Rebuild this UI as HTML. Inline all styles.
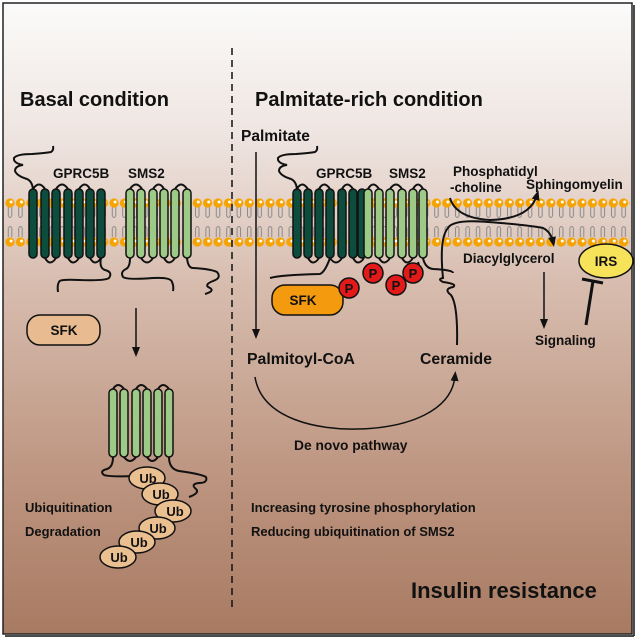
<!DOCTYPE html>
<html><head><meta charset="utf-8">
<style>
html,body{margin:0;padding:0;background:#fff;}
svg{display:block;}
text{font-family:"Liberation Sans",Arial,sans-serif;font-weight:bold;fill:#111;}
</style></head>
<body>
<svg width="638" height="642" viewBox="0 0 638 642" xmlns="http://www.w3.org/2000/svg">
<defs>
<linearGradient id="bg" x1="0" y1="0" x2="0" y2="1">
<stop offset="0" stop-color="#fbfbfa"/>
<stop offset="0.2" stop-color="#efe6e2"/>
<stop offset="0.45" stop-color="#d7bcae"/>
<stop offset="0.75" stop-color="#bd9580"/>
<stop offset="1" stop-color="#a87a62"/>
</linearGradient>
<pattern id="lip" x="4.8" y="196" width="10.4" height="52" patternUnits="userSpaceOnUse">
<path d="M3.5 11 V20 M7 11 V20 M3.5 20 q1.7 3 3.5 0 M3.5 41 V32 M7 41 V32 M3.5 32 q1.7 -3 3.5 0" stroke="#8a8a8a" stroke-width="1" fill="none"/>
<circle cx="5.2" cy="7" r="4.6" fill="#f5a300"/><circle cx="6.3" cy="6" r="1.5" fill="#fff"/>
<circle cx="5.2" cy="46" r="4.6" fill="#f5a300"/><circle cx="6.3" cy="45" r="1.5" fill="#fff"/>
</pattern>
<marker id="ar" markerWidth="10" markerHeight="10" refX="5" refY="5" orient="auto" markerUnits="userSpaceOnUse">
<path d="M0 1 L10 5 L0 9 Z" fill="#111"/></marker>
</defs>
<rect x="0" y="0" width="638" height="642" fill="#fff"/>
<rect x="3" y="3" width="629" height="631" fill="url(#bg)" stroke="#222" stroke-width="1.5"/>
<line x1="5" y1="636" x2="634" y2="636" stroke="#111" stroke-width="1.5"/>
<line x1="634" y1="5" x2="634" y2="636" stroke="#111" stroke-width="1.5"/>
<rect x="5" y="196" width="625" height="52" fill="url(#lip)"/>
<line x1="232" y1="48" x2="232" y2="610" stroke="#111" stroke-width="1.5" stroke-dasharray="7,5"/>

<g stroke="#111" stroke-width="2" fill="none">
<!-- basal GPRC5B -->
<path d="M33 189 q-1 -8 -6 -10 q-10 -3 -12 -8 q0 -5 8 -6 q-10 -2 -9 -7 q3 -4 18 -4 q14 -1 19 -2 q3 -2 2 -6"/>
<path d="M33 189 q6 -9 12 0 M56 189 q6 -9 12 0 M79 189 q6 -9 11 0 M45 258 q5 9 11 0 M68 258 q5 9 11 0 M90 258 q5 9 11 0"/>
<path d="M101 258 q-2 10 4 12 q8 2 4 8 q-4 3 -30 2 q-20 -1 -20 2 q-2 3 -1 10"/>
<!-- basal SMS2 -->
<path d="M130 189 q6 -9 12 0 M153 189 q6 -9 11 0 M175 189 q6 -9 12 0 M141 258 q6 9 12 0 M164 258 q5 9 11 0"/>
<path d="M130 258 q0 9 -4 11 q-6 3 -3 8 q4 3 30 1 q18 -1 19 4 q2 4 1 9"/>
<path d="M187 258 q1 10 6 10 q18 1 24 4 q5 6 -4 9 q-10 4 -3 7 q5 3 -5 6"/>
</g>
<g stroke="#111" stroke-width="1.5">
<rect x="29" y="189" width="8" height="69" rx="4" fill="#0c4d3d"/>
<rect x="41" y="189" width="8" height="69" rx="4" fill="#0c4d3d"/>
<rect x="52" y="189" width="8" height="69" rx="4" fill="#0c4d3d"/>
<rect x="64" y="189" width="8" height="69" rx="4" fill="#0c4d3d"/>
<rect x="75" y="189" width="8" height="69" rx="4" fill="#0c4d3d"/>
<rect x="86" y="189" width="8" height="69" rx="4" fill="#0c4d3d"/>
<rect x="97" y="189" width="8" height="69" rx="4" fill="#0c4d3d"/>
<rect x="126" y="189" width="8" height="69" rx="4" fill="#9dca86"/>
<rect x="137" y="189" width="8" height="69" rx="4" fill="#9dca86"/>
<rect x="149" y="189" width="8" height="69" rx="4" fill="#9dca86"/>
<rect x="160" y="189" width="8" height="69" rx="4" fill="#9dca86"/>
<rect x="171" y="189" width="8" height="69" rx="4" fill="#9dca86"/>
<rect x="183" y="189" width="8" height="69" rx="4" fill="#9dca86"/>
</g>
<text x="53" y="178" font-size="13.5">GPRC5B</text>
<text x="128" y="178" font-size="13.5">SMS2</text>
<text x="20" y="106" font-size="20">Basal condition</text>
<rect x="27" y="315" width="73" height="30" rx="13" fill="#e8bb90" stroke="#111" stroke-width="1.5"/>
<text x="64" y="335" font-size="13.5" text-anchor="middle">SFK</text>
<line x1="136" y1="308" x2="136" y2="352" stroke="#111" stroke-width="1.5" marker-end="url(#ar)"/>

<!-- ubiquitinated SMS2 -->
<g stroke="#111" stroke-width="2" fill="none">
<path d="M113 389 q5 -8 11 0 M136 389 q5 -8 11 0 M158 389 q5 -8 11 0 M124 457 q6 8 12 0 M147 457 q5 8 11 0"/>
<path d="M113 457 q0 10 -6 12 q-8 2 -3 6 q5 2 35 1"/>
<path d="M169 457 q0 12 10 14 q22 3 27 6 q2 6 -7 6 q-9 1 -3 6 q4 4 -7 8"/>
</g>
<g stroke="#111" stroke-width="1.5" fill="#9dca86">
<rect x="109" y="389" width="8" height="68" rx="4"/><rect x="120" y="389" width="8" height="68" rx="4"/>
<rect x="132" y="389" width="8" height="68" rx="4"/><rect x="143" y="389" width="8" height="68" rx="4"/>
<rect x="154" y="389" width="8" height="68" rx="4"/><rect x="165" y="389" width="8" height="68" rx="4"/>
</g>
<g stroke="#111" stroke-width="1.5" fill="#eac091">
<ellipse cx="147" cy="478" rx="18" ry="11"/>
<ellipse cx="160" cy="494" rx="18" ry="11"/>
<ellipse cx="173" cy="511" rx="18" ry="11"/>
<ellipse cx="157" cy="528" rx="18" ry="11"/>
<ellipse cx="137" cy="542" rx="18" ry="11"/>
<ellipse cx="118" cy="557" rx="18" ry="11"/>
</g>
<g font-size="13" text-anchor="middle">
<text x="148" y="483">Ub</text><text x="161" y="499">Ub</text><text x="175" y="516">Ub</text>
<text x="158" y="533">Ub</text><text x="139" y="547">Ub</text><text x="119" y="562">Ub</text>
</g>
<text x="25" y="512" font-size="13">Ubiquitination</text>
<text x="25" y="536" font-size="13">Degradation</text>

<!-- right side -->
<text x="255" y="106" font-size="20">Palmitate-rich condition</text>
<text x="241" y="141" font-size="15.5">Palmitate</text>
<line x1="256" y1="152" x2="256" y2="334" stroke="#111" stroke-width="1.5" marker-end="url(#ar)"/>
<g stroke="#111" stroke-width="2" fill="none">
<path d="M297 189 q-1 -8 -6 -10 q-10 -3 -12 -8 q0 -5 8 -6 q-10 -2 -9 -7 q3 -4 18 -4 q14 -1 19 -2 q3 -2 2 -6"/>
<path d="M297 189 q5 -9 11 0 M319 189 q5 -9 11 0 M342 189 q5 -9 11 0 M368 189 q5 -9 11 0 M390 189 q6 -9 12 0 M413 189 q5 -9 10 0"/>
<path d="M308 258 q5 9 11 0 M330 258 q6 9 12 0 M353 258 q5 9 11 0 M379 258 q5 9 11 0 M402 258 q5 9 11 0"/>
<path d="M423 258 q2 10 10 11 q20 1 20 4"/>
<path d="M330 258 q-5 14 -10 16 q-40 1 -50 4"/>
<path d="M418 262 q4 10 -3 20"/>
<path d="M457 345 q1 -40 -6 -50 q-8 -6 2 -8 q5 -3 -10 -5 q-6 -3 0 -4 q-4 -40 5 -50 q5 -9 40 -6 q40 3 55 6 q8 4 10 14" marker-end="url(#ar)"/>
<path d="M450 198 q6 20 40 22 q40 -1 47 -25" marker-end="url(#ar)"/>
</g>
<g stroke="#111" stroke-width="1.5">
<rect x="293" y="189" width="8" height="69" rx="4" fill="#0c4d3d"/>
<rect x="304" y="189" width="8" height="69" rx="4" fill="#0c4d3d"/>
<rect x="315" y="189" width="8" height="69" rx="4" fill="#0c4d3d"/>
<rect x="326" y="189" width="8" height="69" rx="4" fill="#0c4d3d"/>
<rect x="338" y="189" width="8" height="69" rx="4" fill="#0c4d3d"/>
<rect x="349" y="189" width="8" height="69" rx="4" fill="#0c4d3d"/>
<rect x="358" y="189" width="8" height="69" rx="4" fill="#0c4d3d"/>
<rect x="364" y="189" width="8" height="69" rx="4" fill="#9dca86"/>
<rect x="375" y="189" width="8" height="69" rx="4" fill="#9dca86"/>
<rect x="386" y="189" width="8" height="69" rx="4" fill="#9dca86"/>
<rect x="398" y="189" width="8" height="69" rx="4" fill="#9dca86"/>
<rect x="409" y="189" width="8" height="69" rx="4" fill="#9dca86"/>
<rect x="419" y="189" width="8" height="69" rx="4" fill="#9dca86"/>
</g>
<text x="316" y="178" font-size="13.5">GPRC5B</text>
<text x="389" y="178" font-size="13.5">SMS2</text>
<text x="453" y="176" font-size="13.5">Phosphatidyl</text>
<text x="450" y="192" font-size="13.5">-choline</text>
<text x="526" y="189" font-size="13.5">Sphingomyelin</text>
<rect x="272" y="285" width="71" height="30" rx="13" fill="#f39a0e" stroke="#111" stroke-width="1.5"/>
<text x="303" y="305" font-size="13.5" text-anchor="middle">SFK</text>
<g stroke="#111" stroke-width="1.5" fill="#e41a1a">
<circle cx="349" cy="288" r="10"/><circle cx="373" cy="273" r="10"/>
<circle cx="396" cy="285" r="10"/><circle cx="413" cy="273" r="10"/>
</g>
<g font-size="13" text-anchor="middle">
<text x="349" y="293">P</text><text x="373" y="278">P</text><text x="396" y="290">P</text><text x="413" y="278">P</text>
</g>
<text x="463" y="263" font-size="13.5">Diacylglycerol</text>
<ellipse cx="606" cy="261" rx="27" ry="17" fill="#f7e35a" stroke="#111" stroke-width="1.5"/>
<text x="606" y="266" font-size="13.5" text-anchor="middle">IRS</text>
<line x1="544" y1="272" x2="544" y2="324" stroke="#111" stroke-width="1.5" marker-end="url(#ar)"/>
<text x="535" y="345" font-size="13.5">Signaling</text>
<line x1="586" y1="325" x2="593" y2="281" stroke="#111" stroke-width="3"/>
<line x1="582" y1="279" x2="603" y2="283" stroke="#111" stroke-width="3"/>
<text x="247" y="364" font-size="15.8">Palmitoyl-CoA</text>
<text x="420" y="364" font-size="15.8">Ceramide</text>
<path d="M255 377 C262 420 320 430 357 429 C410 428 452 410 455 376" stroke="#111" stroke-width="1.5" fill="none" marker-end="url(#ar)"/>
<text x="294" y="450" font-size="13.8">De novo pathway</text>
<text x="251" y="512" font-size="13">Increasing tyrosine phosphorylation</text>
<text x="251" y="536" font-size="13">Reducing ubiquitination of SMS2</text>
<text x="411" y="598" font-size="22">Insulin resistance</text>
</svg>
</body></html>
